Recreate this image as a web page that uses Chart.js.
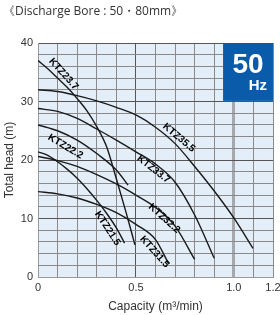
<!DOCTYPE html>
<html>
<head>
<meta charset="utf-8">
<script src="https://cdn.jsdelivr.net/npm/chart.js@4"></script>
<style>
  html, body { margin: 0; padding: 0; background: #fff; overflow: hidden; }
  #wrap { position: relative; width: 280px; height: 315px; }
  canvas { display: block; }
  #title { position: absolute; left: 3px; top: 2px; font: 12px "Open Sans", sans-serif; color: #333; white-space: nowrap; }
</style>
</head>
<body>
<div id="wrap">
  <canvas id="pumpChart" width="280" height="315"></canvas>
  <div id="title">《Discharge Bore : 50・80mm》</div>
</div>
<script>
// Performance curves (capacity m3/min, head m)
const capKTZ237 = [0, 0.05, 0.1, 0.15, 0.2, 0.25, 0.3, 0.35, 0.4, 0.45, 0.495];
const headKTZ237 = [37.0, 35.6, 34.0, 32.4, 30.5, 28.4, 25.7, 22.3, 16.8, 11.0, 5.5];
const capKTZ222 = [0, 0.1, 0.2, 0.3, 0.4, 0.46];
const headKTZ222 = [26.0, 25.0, 23.4, 21.1, 18.3, 15.7];
const capKTZ215 = [0, 0.05, 0.1, 0.15, 0.2, 0.25, 0.3, 0.35, 0.4, 0.442];
const headKTZ215 = [21.4, 20.8, 19.7, 18.4, 16.9, 15.1, 13.1, 10.9, 8.4, 5.8];
const capKTZ355 = [0, 0.1, 0.2, 0.3, 0.4, 0.5, 0.6, 0.7, 0.8, 0.9, 1.0, 1.098];
const headKTZ355 = [32.0, 31.7, 31.0, 30.1, 29.0, 27.7, 25.6, 22.8, 18.9, 14.7, 10.1, 4.9];
const capKTZ337 = [0, 0.1, 0.2, 0.3, 0.4, 0.5, 0.6, 0.7, 0.8, 0.9];
const headKTZ337 = [28.8, 28.3, 27.1, 25.3, 23.4, 21.4, 19.3, 16.2, 10.6, 3.2];
const capKTZ322 = [0, 0.1, 0.2, 0.3, 0.4, 0.5, 0.6, 0.7, 0.8];
const headKTZ322 = [20.6, 19.9, 18.9, 17.5, 15.9, 14.0, 11.9, 8.7, 3.0];
const capKTZ315 = [0, 0.1, 0.2, 0.3, 0.4, 0.5, 0.6, 0.668];
const headKTZ315 = [14.6, 14.2, 13.5, 12.4, 11.0, 9.0, 6.4, 2.2];

// Model names and where their tags sit (capacity, head, angle in degrees)
const modelNames = ['KTZ23.7', 'KTZ22.2', 'KTZ21.5', 'KTZ35.5', 'KTZ33.7', 'KTZ32.2', 'KTZ31.5'];
const tagCap = [0.13, 0.14, 0.355, 0.72, 0.59, 0.645, 0.595];
const tagHead = [34.7, 22.3, 8.3, 23.8, 18.4, 10.0, 4.3];
const tagAngle = [48, 31, 57, 40, 38, 42, 48];

const xTicks = [0, 0.5, 1.0, 1.2];
const yTicks = [0, 10, 20, 30, 40];

function toPoints(xs, ys) {
    return xs.map((x, i) => ({ x: x, y: ys[i] }));
}

const curveSets = [
    [capKTZ237, headKTZ237], [capKTZ222, headKTZ222], [capKTZ215, headKTZ215],
    [capKTZ355, headKTZ355], [capKTZ337, headKTZ337], [capKTZ322, headKTZ322],
    [capKTZ315, headKTZ315]
];

// Blue plot background
const plotBackground = {
    id: 'plotBackground',
    beforeDraw(chart) {
        const { ctx, chartArea } = chart;
        ctx.save();
        ctx.fillStyle = '#e3eef9';
        ctx.fillRect(chartArea.left, chartArea.top, chartArea.right - chartArea.left, chartArea.bottom - chartArea.top);
        ctx.restore();
    }
};

// Model tags along the curves and the 50 Hz badge
const curveTags = {
    id: 'curveTags',
    afterDatasetsDraw(chart) {
        const ctx = chart.ctx;
        const xs = chart.scales.x, ys = chart.scales.y;
        ctx.save();
        ctx.fillStyle = '#000';
        ctx.font = 'bold 10px "Liberation Sans", Arial, sans-serif';
        ctx.textAlign = 'center';
        ctx.textBaseline = 'middle';
        modelNames.forEach((name, i) => {
            ctx.save();
            ctx.translate(xs.getPixelForValue(tagCap[i]), ys.getPixelForValue(tagHead[i]));
            ctx.rotate(tagAngle[i] * Math.PI / 180);
            ctx.fillText(name, 0, 0);
            ctx.restore();
        });

        // 50Hz badge in the top right corner
        const bx = xs.getPixelForValue(0.945), by = ys.getPixelForValue(40);
        const bx2 = xs.getPixelForValue(1.2), by2 = ys.getPixelForValue(30.1);
        ctx.fillStyle = '#0a5cab';
        ctx.fillRect(bx, by, bx2 - bx, by2 - by);
        ctx.fillStyle = '#fff';
        ctx.textAlign = 'center';
        ctx.textBaseline = 'alphabetic';
        ctx.font = 'bold 28px "Liberation Sans", Arial, sans-serif';
        ctx.fillText('50', (bx + bx2) / 2, by + 30);
        ctx.textAlign = 'right';
        ctx.font = 'bold 15px "Liberation Sans", Arial, sans-serif';
        ctx.fillText('Hz', bx2 - 6, by + 47);
        ctx.restore();
    }
};

const ctx = document.getElementById('pumpChart').getContext('2d');
const pumpChart = new Chart(ctx, {
    type: 'line',
    data: {
        datasets: curveSets.map((s, i) => ({
            label: modelNames[i],
            data: toPoints(s[0], s[1]),
            borderColor: '#1a1a1a',
            borderWidth: 1.4,
            pointRadius: 0,
            fill: false,
            cubicInterpolationMode: 'monotone'
        }))
    },
    options: {
        responsive: false,
        animation: false,
        layout: { padding: { top: 43, right: 0, left: 0, bottom: 0 } },
        scales: {
            x: {
                type: 'linear',
                min: 0,
                max: 1.2,
                afterFit: (scale) => {
                    scale.height = 38;
                    scale.paddingLeft = 0;
                    scale.paddingRight = 7;
                },
                ticks: {
                    stepSize: 0.1,
                    autoSkip: false,
                    maxRotation: 0,
                    padding: 4,
                    color: '#333',
                    font: { family: '"Liberation Sans", Arial, sans-serif', size: 11 },
                    callback: (v) => {
                        const hit = xTicks.find(t => Math.abs(t - v) < 1e-6);
                        if (hit === undefined) return '';
                        return hit === 0 ? '0' : hit.toFixed(1);
                    }
                },
                grid: {
                    drawTicks: false,
                    color: (c) => {
                        const v = c.tick ? c.tick.value : 0;
                        if (Math.abs(v - 1.0) < 1e-6) return '#a5a9ad';
                        if (Math.abs(v - 0.5) < 1e-6) return '#555';
                        return '#8a8a8a';
                    },
                    lineWidth: (c) => {
                        const v = c.tick ? c.tick.value : 0;
                        return Math.abs(v - 1.0) < 1e-6 ? 3 : 1;
                    }
                },
                border: { color: '#999', width: 1 },
                title: {
                    display: true,
                    text: 'Capacity (m³/min)',
                    color: '#333',
                    font: { family: '"Liberation Sans", Arial, sans-serif', size: 12 },
                    padding: { top: 0, bottom: 1 }
                }
            },
            y: {
                min: 0,
                max: 40,
                afterFit: (scale) => { scale.width = 38; },
                ticks: {
                    stepSize: 2,
                    autoSkip: false,
                    padding: 5,
                    color: '#333',
                    font: { family: '"Liberation Sans", Arial, sans-serif', size: 11 },
                    callback: (v) => yTicks.includes(v) ? String(v) : ''
                },
                grid: {
                    drawTicks: false,
                    color: (c) => {
                        const v = c.tick ? c.tick.value : 0;
                        return v % 10 === 0 ? '#555' : '#8a8a8a';
                    }
                },
                border: { color: '#999', width: 1 },
                title: {
                    display: true,
                    text: 'Total head (m)',
                    color: '#333',
                    font: { family: '"Liberation Sans", Arial, sans-serif', size: 12 },
                    padding: { top: 2, bottom: 0 }
                }
            }
        },
        plugins: {
            legend: { display: false },
            tooltip: { enabled: false }
        }
    },
    plugins: [plotBackground, curveTags]
});
</script>
</body>
</html>
